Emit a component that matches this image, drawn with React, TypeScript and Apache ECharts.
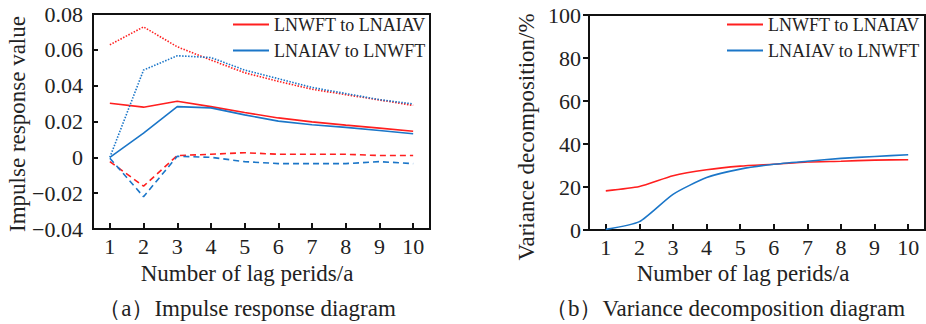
import React, { useEffect, useRef } from "react";
import * as echarts from "echarts";

const lags = ["1", "2", "3", "4", "5", "6", "7", "8", "9", "10"];

// (a) Impulse response
const redSolid = [0.0302, 0.028, 0.0313, 0.0283, 0.025, 0.022, 0.0198, 0.018, 0.0163, 0.0146];
const redUpper = [0.0628, 0.0728, 0.0617, 0.0543, 0.0472, 0.0424, 0.038, 0.035, 0.032, 0.029];
const redLower = [-0.0024, -0.0161, 0.001, 0.0017, 0.0026, 0.0017, 0.0017, 0.0017, 0.001, 0.001];
const blueSolid = [0.0, 0.0135, 0.0283, 0.0276, 0.0237, 0.0202, 0.0182, 0.0167, 0.015, 0.0132];
const blueUpper = [0.0, 0.0487, 0.0567, 0.0557, 0.0487, 0.0439, 0.039, 0.0356, 0.0322, 0.0298];
const blueLower = [-0.0005, -0.022, 0.0006, 0.0, -0.0024, -0.0035, -0.0035, -0.0035, -0.0024, -0.0035];

// (b) Variance decomposition
const redVar = [18.2, 20.2, 25.2, 28.0, 29.7, 30.6, 31.6, 32.0, 32.5, 32.7];
const blueVar = [0.3, 3.9, 16.6, 24.4, 28.3, 30.6, 32.0, 33.3, 34.2, 35.0];

const nameA = "LNWFT to LNAIAV";
const nameB = "LNAIAV to LNWFT";

const RED = "#ff1f1f";
const BLUE = "#1b76c8";
const FONT = "Liberation Serif";
const TXT = "#222";

export default function App() {
  const ref = useRef<HTMLDivElement>(null);
  useEffect(() => {
    if (!ref.current) return;
    const chart = echarts.init(ref.current, null, { renderer: "svg" });

    const xAxisCommon = (gridIndex: number) => ({
      type: "category",
      gridIndex,
      data: lags,
      boundaryGap: true,
      axisLine: { show: true, onZero: false, lineStyle: { color: "#111", width: 2 } },
      axisTick: { show: true, inside: true, alignWithLabel: true, length: 6, lineStyle: { color: "#111", width: 2 } },
      axisLabel: { color: TXT, fontFamily: FONT, fontSize: 22, margin: 6 },
      splitLine: { show: false },
    });

    const fmtA = (v: number) => {
      if (Math.abs(v) < 1e-9) return "0";
      const s = Math.abs(v).toFixed(2);
      return v < 0 ? "\u2212" + s : s;
    };

    const line = (name: string, data: number[], color: string, type: any, xi: number, smooth: number | boolean) => ({
      type: "line",
      name,
      data,
      xAxisIndex: xi,
      yAxisIndex: xi,
      showSymbol: false,
      symbol: "none",
      smooth,
      lineStyle: { color, width: 1.6, type },
      itemStyle: { color },
    });

    const legendCommon = {
      orient: "vertical",
      icon: "rect",
      itemWidth: 36,
      itemHeight: 2,
      itemGap: 7,
      textStyle: { fontFamily: FONT, fontSize: 18, color: TXT, lineHeight: 19 },
      selectedMode: false,
    };

    chart.setOption({
      animation: false,
      backgroundColor: "#fff",
      textStyle: { fontFamily: FONT },
      grid: [
        { left: 93, top: 14, width: 337, height: 215, show: true, borderColor: "#111", borderWidth: 2 },
        { left: 589, top: 15, width: 336, height: 215, show: true, borderColor: "#111", borderWidth: 2 },
      ],
      xAxis: [xAxisCommon(0), xAxisCommon(1)],
      yAxis: [
        {
          type: "value",
          gridIndex: 0,
          min: -0.04,
          max: 0.08,
          interval: 0.02,
          axisLine: { show: true, lineStyle: { color: "#111", width: 2 } },
          axisTick: { show: true, inside: true, length: 5, lineStyle: { color: "#111", width: 2 } },
          axisLabel: { color: TXT, fontFamily: FONT, fontSize: 22, margin: 10, formatter: fmtA },
          splitLine: { show: false },
        },
        {
          type: "value",
          gridIndex: 1,
          min: 0,
          max: 100,
          interval: 20,
          axisLine: { show: true, lineStyle: { color: "#111", width: 2 } },
          axisTick: { show: true, inside: false, length: 6, lineStyle: { color: "#111", width: 2 } },
          axisLabel: { color: TXT, fontFamily: FONT, fontSize: 22, margin: 8 },
          splitLine: { show: false },
        },
      ],
      legend: [
        { ...legendCommon, left: 228, top: 10, data: [nameA, nameB] },
        { ...legendCommon, left: 722, top: 10, data: [nameA + " ", nameB + " "] },
      ],
      series: [
        line(nameA, redSolid, RED, "solid", 0, false),
        line(nameB, blueSolid, BLUE, "solid", 0, false),
        line("A upper", redUpper, RED, [1.5, 1.5], 0, false),
        line("B upper", blueUpper, BLUE, [1.5, 1.5], 0, false),
        line("A lower", redLower, RED, [6, 4], 0, false),
        line("B lower", blueLower, BLUE, [6, 4], 0, false),
        line(nameA + " ", redVar, RED, "solid", 1, 0.2),
        line(nameB + " ", blueVar, BLUE, "solid", 1, 0.2),
      ],
      graphic: [
        {
          type: "text",
          x: 17,
          y: 124,
          rotation: Math.PI / 2,
          style: { text: "Impulse response value", fontFamily: FONT, fontSize: 23, fill: TXT, align: "center", verticalAlign: "middle" },
        },
        {
          type: "text",
          x: 247,
          y: 273,
          style: { text: "Number of lag perids/a", fontFamily: FONT, fontSize: 23, fill: TXT, align: "center", verticalAlign: "middle" },
        },
        {
          type: "text",
          x: 247,
          y: 308,
          style: { text: "（a）Impulse response diagram", fontFamily: FONT, fontSize: 23, fill: TXT, align: "center", verticalAlign: "middle" },
        },
        {
          type: "text",
          x: 526,
          y: 137,
          rotation: Math.PI / 2,
          style: { text: "Variance decomposition/%", fontFamily: FONT, fontSize: 23, fill: TXT, align: "center", verticalAlign: "middle" },
        },
        {
          type: "text",
          x: 743,
          y: 273,
          style: { text: "Number of lag perids/a", fontFamily: FONT, fontSize: 23, fill: TXT, align: "center", verticalAlign: "middle" },
        },
        {
          type: "text",
          x: 725,
          y: 308,
          style: { text: "（b）Variance decomposition diagram", fontFamily: FONT, fontSize: 23, fill: TXT, align: "center", verticalAlign: "middle" },
        },
      ],
    });
    return () => chart.dispose();
  }, []);
  return <div ref={ref} style={{ width: 926, height: 324, position: "absolute", left: 0, top: 0 }} />;
}
